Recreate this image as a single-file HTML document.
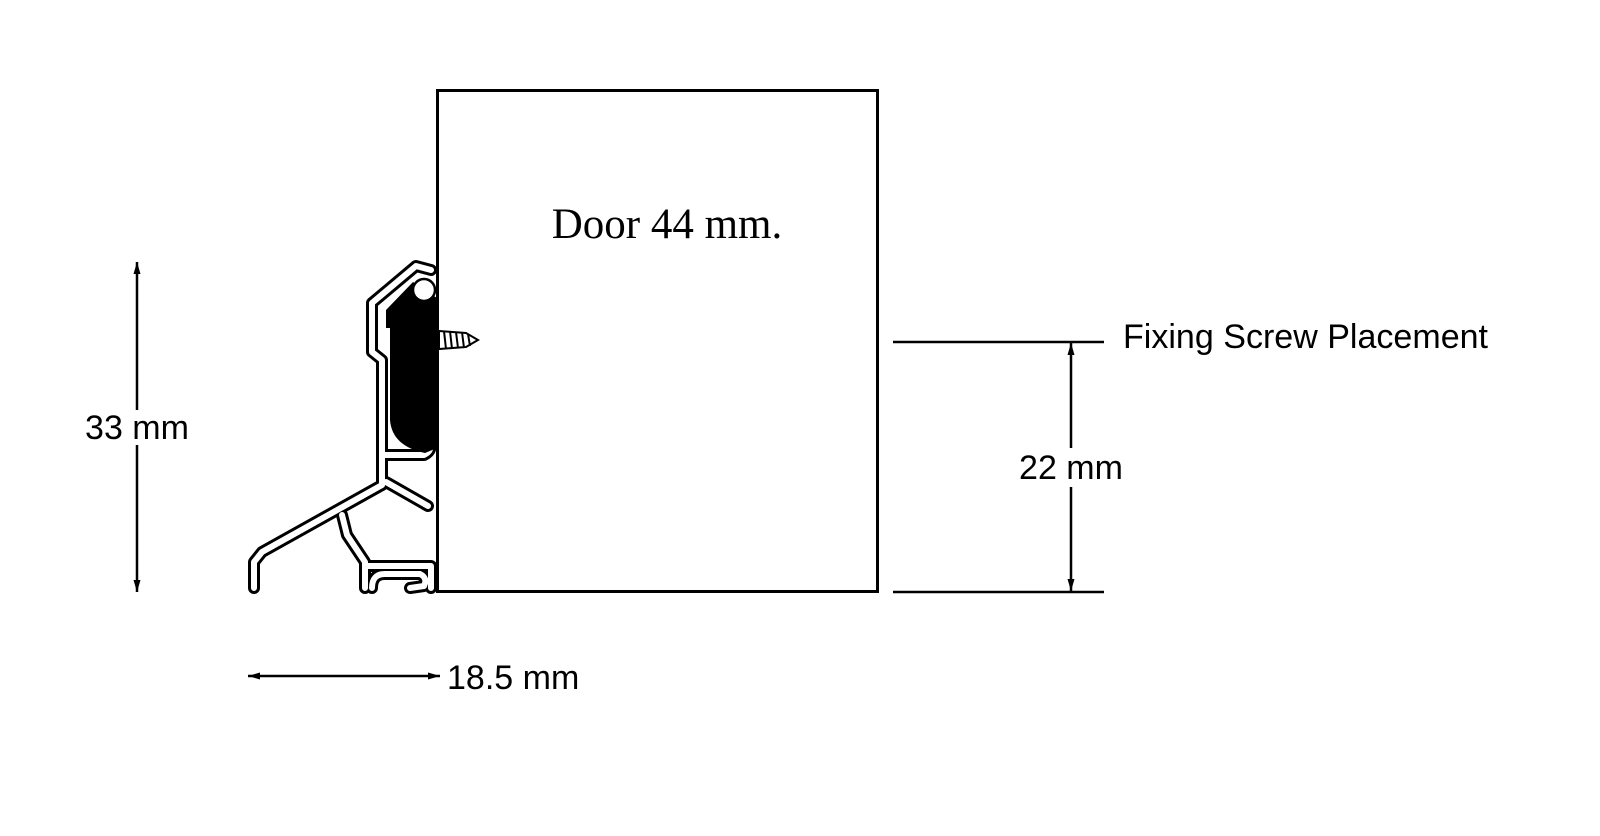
<!DOCTYPE html>
<html><head><meta charset="utf-8"><style>
html,body{margin:0;padding:0;background:#fff;width:1600px;height:836px;overflow:hidden}
svg{display:block}
</style></head><body>
<svg width="1600" height="836" viewBox="0 0 1600 836" xmlns="http://www.w3.org/2000/svg">
<defs>
<marker id="ar" viewBox="0 0 12 10" refX="12" refY="5" markerWidth="12" markerHeight="10" markerUnits="userSpaceOnUse" orient="auto-start-reverse"><path d="M0,1.5 L12,5 L0,8.5 Z" fill="#000"/></marker>
</defs>
<!-- Door -->
<rect x="437.5" y="90.5" width="440" height="501" fill="#fff" stroke="#000" stroke-width="3"/>
<text x="667" y="238" font-family="Liberation Serif, serif" font-size="43" text-anchor="middle">Door 44 mm.</text>

<!-- Profile: double-line look -->
<g fill="none" stroke-linejoin="round" stroke-linecap="round">
<g stroke="#000" stroke-width="12">
<path d="M431,270 L416,266 L372,303 L372,352 L382,360 L382,485 L262,552 L254,562 L254,588"/>
<path d="M384,455 L424,455 Q434,450 428,442"/>
<path d="M386,482 L428,506"/>
<path d="M342,515 L347,535 L365,562 L365,588"/>
<path d="M368,566 L431,566 L431,588"/>
<path d="M372,588 Q372,574 385,574 L420,574 Q428,578 424,586 L410,588"/>
</g>
<g stroke="#fff" stroke-width="6">
<path d="M431,270 L416,266 L372,303 L372,352 L382,360 L382,485 L262,552 L254,562 L254,588"/>
<path d="M384,455 L424,455 Q434,450 428,442"/>
<path d="M386,482 L428,506"/>
<path d="M342,515 L347,535 L365,562 L365,588"/>
<path d="M368,566 L431,566 L431,588"/>
<path d="M372,588 Q372,574 385,574 L420,574 Q428,578 424,586 L410,588"/>
</g>
</g>
<!-- gasket -->
<path d="M413,282 L386,310 L386,328 L390,328 L390,420 Q392,446 425,453 L437,448 L437,298 Z" fill="#000"/>
<circle cx="424" cy="290" r="11" fill="#fff" stroke="#000" stroke-width="2.5"/>
<!-- screw -->
<g stroke="#000" stroke-width="2" fill="#fff">
<path d="M439,331 L466,333 L478,340 L466,347 L439,349 Z"/>
<path d="M444,331 L446,349 M450,331 L452,349 M456,332 L458,348 M462,332 L464,348 M468,334 L470,346" fill="none"/>
</g>

<!-- 33 mm -->
<line x1="137" y1="262" x2="137" y2="410" stroke="#000" stroke-width="2.5" marker-start="url(#ar)"/>
<line x1="137" y1="445" x2="137" y2="592" stroke="#000" stroke-width="2.5" marker-end="url(#ar)"/>
<text x="137" y="439" font-family="Liberation Sans, sans-serif" font-size="34" text-anchor="middle">33 mm</text>

<!-- 18.5 mm -->
<line x1="248" y1="676" x2="440" y2="676" stroke="#000" stroke-width="2.5" marker-start="url(#ar)" marker-end="url(#ar)"/>
<text x="447" y="689" font-family="Liberation Sans, sans-serif" font-size="34">18.5 mm</text>

<!-- right dims -->
<line x1="893" y1="342" x2="1104" y2="342" stroke="#000" stroke-width="2.5"/>
<line x1="893" y1="592" x2="1104" y2="592" stroke="#000" stroke-width="2.5"/>
<line x1="1071" y1="343" x2="1071" y2="448" stroke="#000" stroke-width="2.5" marker-start="url(#ar)"/>
<line x1="1071" y1="487" x2="1071" y2="591" stroke="#000" stroke-width="2.5" marker-end="url(#ar)"/>
<text x="1071" y="479" font-family="Liberation Sans, sans-serif" font-size="34" text-anchor="middle">22 mm</text>
<text x="1123" y="348" font-family="Liberation Sans, sans-serif" font-size="34" textLength="365">Fixing Screw Placement</text>
</svg>
</body></html>
